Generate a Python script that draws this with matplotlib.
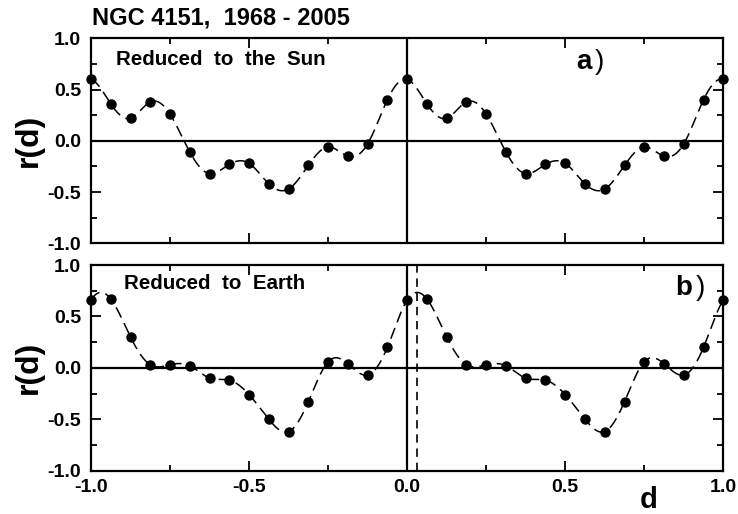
import numpy as np
import matplotlib
matplotlib.use("Agg")
import matplotlib.pyplot as plt
from matplotlib.ticker import MultipleLocator, FormatStrFormatter, NullFormatter

plt.rcParams['font.family'] = ['Liberation Sans', 'DejaVu Sans']
plt.rcParams['axes.unicode_minus'] = False

# lag grid (period 1, step 1/16) and correlation values over one period d in [-1, 0)
lag_step = 1.0 / 16
r_sun = [0.60, 0.36, 0.22, 0.38, 0.26, -0.11, -0.32, -0.23,
         -0.22, -0.42, -0.47, -0.24, -0.06, -0.15, -0.03, 0.40]
r_earth = [0.66, 0.67, 0.30, 0.03, 0.03, 0.02, -0.10, -0.12,
           -0.26, -0.50, -0.62, -0.33, 0.06, 0.04, -0.07, 0.20]
earth_shift = 0.03

title = "NGC 4151,  1968 - 2005"
panel_texts = ["Reduced  to  the  Sun", "Reduced  to  Earth"]
panel_tags = ["a", "b"]


def periodic_spline(y, h, xs, x0):
    """Periodic cubic spline through equally spaced y (period len(y)*h)."""
    y = np.asarray(y, float)
    n = len(y)
    A = np.zeros((n, n))
    for i in range(n):
        A[i, i] = 4.0
        A[i, (i - 1) % n] = 1.0
        A[i, (i + 1) % n] = 1.0
    rhs = 6.0 / h ** 2 * (np.roll(y, 1) - 2 * y + np.roll(y, -1))
    M = np.linalg.solve(A, rhs)
    t = np.mod((xs - x0) / h, n)
    i = np.floor(t).astype(int) % n
    j = (i + 1) % n
    u = t - np.floor(t)
    a = 1 - u
    return (a * y[i] + u * y[j]
            + ((a ** 3 - a) * M[i] + (u ** 3 - u) * M[j]) * h ** 2 / 6.0)


fig = plt.figure(figsize=(7.38, 5.14), dpi=100)
ax_top = fig.add_axes([91 / 738, 1 - 243.3 / 514, 632.3 / 738, 205 / 514])
ax_bot = fig.add_axes([91 / 738, 1 - 470.7 / 514, 632.3 / 738, 205.7 / 514])

n = len(r_sun)
d_pts = -1.0 + lag_step * np.arange(2 * n + 1)
d_fine = np.linspace(-1.0, 1.0, 2001)

for k, (ax, vals) in enumerate([(ax_top, r_sun), (ax_bot, r_earth)]):
    vals_full = np.array(list(vals) * 2 + [vals[0]])
    curve = periodic_spline(vals, lag_step, d_fine, -1.0)
    ax.axhline(0, color='black', lw=1.6, zorder=1)
    ax.axvline(0, color='black', lw=1.6, zorder=1)
    if k == 1:
        ax.axvline(earth_shift, color='black', lw=1.2, ls=(0, (5, 3.5)), zorder=1)
    ax.plot(d_fine, curve, color='black', lw=1.1, ls=(0, (7.5, 4)), zorder=2)
    ax.plot(d_pts, vals_full, 'o', color='black', ms=6.5, zorder=3, clip_on=False)

    ax.set_xlim(-1, 1)
    ax.set_ylim(-1, 1)
    ax.xaxis.set_major_locator(MultipleLocator(0.5))
    ax.xaxis.set_minor_locator(MultipleLocator(0.25))
    ax.yaxis.set_major_locator(MultipleLocator(0.5))
    ax.yaxis.set_minor_locator(MultipleLocator(0.25))
    ax.yaxis.set_major_formatter(FormatStrFormatter('%.1f'))
    ax.xaxis.set_major_formatter(FormatStrFormatter('%.1f'))
    ax.tick_params(which='both', direction='in', top=True, right=True, width=1.3)
    ax.tick_params(which='major', length=7)
    ax.tick_params(which='minor', length=4)
    ax.tick_params(axis='y', labelsize=14, pad=7)
    ax.tick_params(axis='x', labelsize=14, pad=6)
    for sp in ax.spines.values():
        sp.set_linewidth(1.6)
    ax.set_ylabel("r(d)", fontsize=23, fontweight='bold', labelpad=3)
    ax.text(0.04 if k == 0 else 0.052, 0.87 if k == 0 else 0.882, panel_texts[k],
            transform=ax.transAxes, fontsize=14.8, fontweight='bold', va='baseline')

ax_top.xaxis.set_major_formatter(NullFormatter())
for ax in (ax_top, ax_bot):
    for lab in ax.get_xticklabels() + ax.get_yticklabels():
        lab.set_fontweight('bold')

ax_top.text(0.767, 0.85, "a", transform=ax_top.transAxes, fontsize=20,
            fontweight='bold', va='baseline')
ax_top.text(0.797, 0.85, ")", transform=ax_top.transAxes, fontsize=20,
            va='baseline')
ax_bot.text(0.924, 0.854, "b", transform=ax_bot.transAxes, fontsize=20,
            fontweight='bold', va='baseline')
ax_bot.text(0.957, 0.854, ")", transform=ax_bot.transAxes, fontsize=20,
            va='baseline')

fig.text(649 / 738, 1 - 508 / 514, "d", fontsize=21, fontweight='bold',
         ha='center', va='baseline')
fig.text(92 / 738, 1 - 25 / 514, title, fontsize=17, fontweight='bold',
         ha='left', va='baseline')

fig.savefig("out.png", dpi=100)
